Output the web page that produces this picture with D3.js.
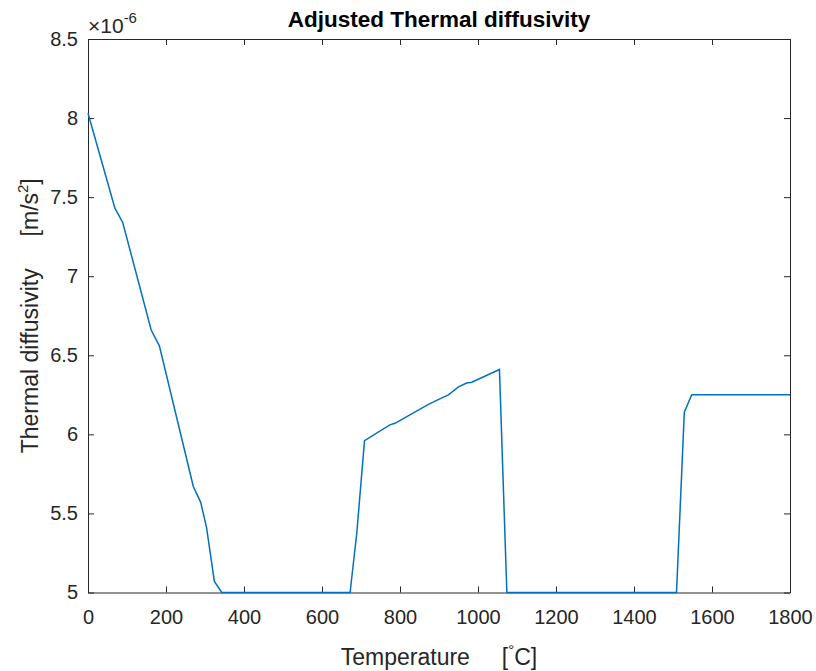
<!DOCTYPE html>
<html>
<head>
<meta charset="utf-8">
<script src="https://d3js.org/d3.v7.min.js"></script>
<style>
body { margin: 0; background: #fff; }
text { font-family: "Liberation Sans", Arial, Helvetica, sans-serif; fill: #262626; }
</style>
</head>
<body>
<svg id="main_vis" width="816" height="671"></svg>
<script>
// temperature [°C]
var temps = [0, 69, 89, 162, 183, 270, 289, 304, 324, 343, 672, 689, 709, 774, 787, 873, 898, 924, 950, 971, 984, 1055, 1074, 1509, 1529, 1548, 1800];
// thermal diffusivity [x 1e-6 m/s^2]
var diffusivity = [8.03, 7.43, 7.34, 6.66, 6.56, 5.67, 5.57, 5.41, 5.07, 5.0, 5.0, 5.37, 5.96, 6.06, 6.07, 6.19, 6.22, 6.25, 6.30, 6.325, 6.33, 6.41, 5.0, 5.0, 6.14, 6.25, 6.25];

var xTicks = [0, 200, 400, 600, 800, 1000, 1200, 1400, 1600, 1800];
var yTicks = [5, 5.5, 6, 6.5, 7, 7.5, 8, 8.5];

var data = temps.map(function(t, i) { return { t: t, v: diffusivity[i] }; });

var svg = d3.select("#main_vis");
var pLeft = 88, pRight = 790, pTop = 39, pBottom = 592.5;

var x = d3.scaleLinear().domain([0, 1800]).range([pLeft, pRight]);
var y = d3.scaleLinear().domain([5, 8.5]).range([pBottom, pTop]);

// box + inward ticks
function styleAxis(g) {
  g.select(".domain").attr("stroke", "#262626").attr("stroke-width", 1);
  g.selectAll(".tick line").attr("stroke", "#262626");
  g.selectAll("text").attr("font-size", "20px").attr("fill", "#262626")
    .attr("font-family", "Liberation Sans, Arial, sans-serif");
}

svg.append("g")
  .attr("transform", "translate(0," + pBottom + ")")
  .call(d3.axisBottom(x).tickValues(xTicks).tickSize(-6).tickSizeOuter(0).tickPadding(17).tickFormat(d3.format("d")))
  .call(styleAxis);

svg.append("g")
  .attr("transform", "translate(0," + pTop + ")")
  .call(d3.axisTop(x).tickValues(xTicks).tickSize(-6).tickSizeOuter(0).tickFormat(""))
  .call(styleAxis);

svg.append("g")
  .attr("transform", "translate(" + pLeft + ",0)")
  .call(d3.axisLeft(y).tickValues(yTicks).tickSize(-6).tickSizeOuter(0).tickPadding(10).tickFormat(d3.format("~g")))
  .call(styleAxis);

svg.append("g")
  .attr("transform", "translate(" + pRight + ",0)")
  .call(d3.axisRight(y).tickValues(yTicks).tickSize(-6).tickSizeOuter(0).tickFormat(""))
  .call(styleAxis);

// the line
svg.append("path")
  .datum(data)
  .attr("fill", "none")
  .attr("stroke", "#0072BD")
  .attr("stroke-width", 1.5)
  .attr("d", d3.line()
    .x(function(d) { return x(d.t); })
    .y(function(d) { return y(d.v); }));

// title
svg.append("text")
  .attr("x", (pLeft + pRight) / 2)
  .attr("y", 27)
  .attr("text-anchor", "middle")
  .attr("font-size", "22.5px")
  .attr("font-weight", "bold")
  .style("fill", "#000")
  .text("Adjusted Thermal diffusivity");

// exponent
var ex = svg.append("text")
  .attr("x", 88)
  .attr("y", 33)
  .attr("font-size", "21px");
ex.append("tspan").text("\u00d710");
ex.append("tspan").attr("dy", -10).attr("font-size", "15px").text("-6");

// x label
var xl = svg.append("text")
  .attr("x", (pLeft + pRight) / 2)
  .attr("y", 665)
  .attr("text-anchor", "middle")
  .attr("font-size", "23px")
  .attr("xml:space", "preserve");
xl.append("tspan").text("Temperature     [");
xl.append("tspan").attr("dy", -10).attr("font-size", "15px").text("\u00b0");
xl.append("tspan").attr("dy", 10).text("C]");

// y label
var yl = svg.append("text")
  .attr("transform", "translate(38," + ((pTop + pBottom) / 2) + ") rotate(-90)")
  .attr("text-anchor", "middle")
  .attr("font-size", "23px")
  .attr("xml:space", "preserve");
yl.append("tspan").text("Thermal diffusivity     [m/s");
yl.append("tspan").attr("dy", -10).attr("font-size", "15px").text("2");
yl.append("tspan").attr("dy", 10).text("]");
</script>
</body>
</html>
